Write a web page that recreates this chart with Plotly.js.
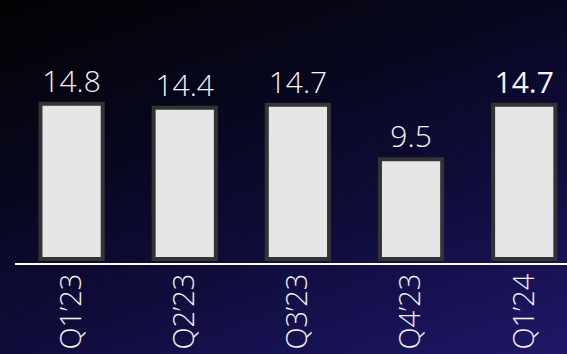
<!DOCTYPE html>
<html>
<head>
<meta charset="utf-8">
<script src="https://cdn.plot.ly/plotly-3.0.1.min.js"></script>
<style>
  html, body { margin: 0; padding: 0; width: 567px; height: 354px; overflow: hidden; }
  body { background: linear-gradient(160deg, #030304 0%, #06061a 30%, #0f0c3a 62%, #1e1868 100%); }
  #chart { width: 567px; height: 354px; }
</style>
</head>
<body>
<div id="chart"></div>
<script>
const categories = ["Q1\u201923", "Q2\u201923", "Q3\u201923", "Q4\u201923", "Q1\u201924"];
const values = [14.8, 14.4, 14.7, 9.5, 14.7];
const labelWeights = [300, 300, 300, 300, 400];

const trace = {
  type: 'bar',
  x: categories,
  y: values,
  width: 0.55,
  marker: { color: '#e6e6e6', line: { color: '#333333', width: 4 } },
  text: values.map(v => v.toFixed(1)),
  textposition: 'outside',
  textfont: { family: 'Open Sans', size: 30, color: '#f4f4f4', weight: labelWeights },
  cliponaxis: false,
  hoverinfo: 'none'
};

const layout = {
  width: 567, height: 354,
  margin: { l: 15, r: 0, t: 0, b: 91, pad: 0 },
  paper_bgcolor: 'rgba(0,0,0,0)',
  plot_bgcolor: 'rgba(0,0,0,0)',
  showlegend: false,
  xaxis: {
    type: 'category',
    range: [-0.5, 4.378],
    showline: true, linecolor: '#ffffff', linewidth: 2,
    showgrid: false, zeroline: false, ticks: '',
    tickangle: -90,
    ticklabelstandoff: -3,
    tickfont: { family: 'Open Sans', size: 29, color: '#f2f2f2', weight: 300 }
  },
  yaxis: {
    range: [-0.38, 24.67],
    visible: false, showgrid: false, zeroline: false
  }
};

Plotly.newPlot('chart', [trace], layout, { staticPlot: true, displayModeBar: false });
</script>
</body>
</html>
